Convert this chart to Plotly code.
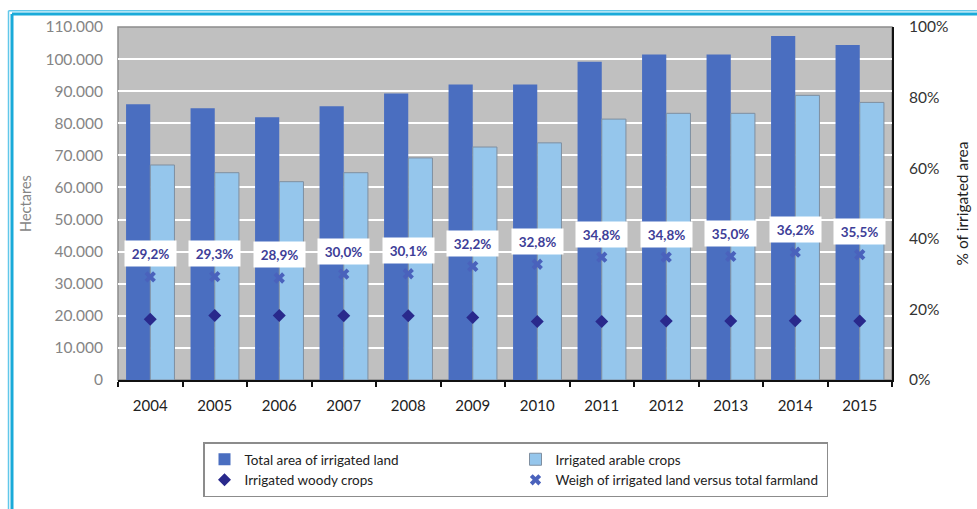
import plotly.graph_objects as go

# Irrigated land by year (hectares) and share of total farmland (%)
years = ["2004", "2005", "2006", "2007", "2008", "2009",
         "2010", "2011", "2012", "2013", "2014", "2015"]
total_irrigated = [85900, 84700, 81900, 85300, 89300, 92100,
                   92100, 99200, 101400, 101400, 107200, 104400]
arable_crops = [67000, 64600, 61800, 64600, 69200, 72600,
                73900, 81300, 83100, 83100, 88700, 86500]
woody_crops = [18900, 20100, 20100, 20000, 20000, 19500,
               18200, 18200, 18400, 18400, 18500, 18400]
weight_pct = [29.2, 29.3, 28.9, 30.0, 30.1, 32.2,
              32.8, 34.8, 34.8, 35.0, 36.2, 35.5]
left_ticks = list(range(0, 110001, 10000))
right_ticks = [0, 20, 40, 60, 80, 100]

FONT = "Lato, 'Open Sans', sans-serif"
DARK_BLUE = "#4A6EC0"
LIGHT_BLUE = "#95C6EC"
LABEL_COLOR = "#3E3E98"

fig = go.Figure()

fig.add_trace(go.Bar(
    x=years, y=total_irrigated, name="Total area of irrigated land",
    marker=dict(color=DARK_BLUE, line=dict(width=0)),
))
fig.add_trace(go.Bar(
    x=years, y=arable_crops, name="Irrigated arable crops",
    marker=dict(color=LIGHT_BLUE, line=dict(color="#7F8FA0", width=1)),
))
fig.add_trace(go.Scatter(
    x=years, y=woody_crops, name="Irrigated woody crops", mode="markers",
    marker=dict(symbol="diamond", size=10, color="#29298C"),
))
fig.add_trace(go.Scatter(
    x=years, y=weight_pct, name="Weigh of irrigated land versus total farmland",
    mode="markers", yaxis="y2",
    marker=dict(symbol="x", size=10, color="#4A62BC"),
))

# Percentage labels in white boxes above the share markers
# (category axis: annotations are placed by category index)
for i, v in enumerate(weight_pct):
    fig.add_annotation(
        x=i, y=v, xref="x", yref="y2", yshift=23,
        text=f"<b>{v:.1f}%</b>".replace(".", ","),
        showarrow=False, bgcolor="white", width=49, height=23,
        font=dict(family=FONT, size=13.5, color=LABEL_COLOR),
    )

W, H = 977, 509
ml, mr, mt, mb = 118, 85, 27, 126
pw, ph = W - ml - mr, H - mt - mb

# Plot-area frame and the outer cyan page border
fig.add_shape(type="rect", xref="paper", yref="paper", x0=0, y0=0, x1=1, y1=1,
              line=dict(color="#8C8C8C", width=1.5), layer="below")
border_lines = [(8.5, 10.5, 1.5, "#62C8EA"), (12, 14, 3, "#1AAAD9")]
for bx, by, bw, bc in border_lines:
    px = (bx - ml) / pw
    py = 1 - (by - mt) / ph
    fig.add_shape(type="line", xref="paper", yref="paper",
                  x0=px, y0=py, x1=(W + 5 - ml) / pw, y1=py,
                  line=dict(color=bc, width=bw))
    fig.add_shape(type="line", xref="paper", yref="paper",
                  x0=px, y0=py, x1=px, y1=1 - (H + 5 - mt) / ph,
                  line=dict(color=bc, width=bw))

fig.update_layout(
    width=W, height=H,
    margin=dict(l=ml, r=mr, t=mt, b=mb),
    paper_bgcolor="white", plot_bgcolor="#C0C0C0",
    separators=",.",
    barmode="group", bargap=0.25, bargroupgap=0,
    font=dict(family=FONT, size=14, color="#222222"),
    xaxis=dict(
        type="category", range=[-0.5, len(years) - 0.5], automargin=False,
        showline=True, linecolor="#111111", linewidth=2,
        ticks="outside", tickson="boundaries", ticklen=5, tickwidth=1.5,
        tickcolor="#111111", showgrid=False, tickangle=0,
        ticklabelstandoff=11,
        tickfont=dict(family=FONT, size=15, color="#222222"),
    ),
    yaxis=dict(
        range=[0, 110000], tickvals=left_ticks, tickformat=",d",
        automargin=False,
        showgrid=True, gridcolor="white", gridwidth=2, zeroline=False,
        showline=False, ticks="", ticklabelstandoff=14,
        tickfont=dict(family=FONT, size=15.5, color="#858585"),
        title=dict(text="Hectares", standoff=10,
                   font=dict(family=FONT, size=14.5, color="#858585")),
    ),
    yaxis2=dict(
        overlaying="y", side="right", range=[0, 100], automargin=False,
        tickvals=right_ticks, ticktext=[f"{t}%" for t in right_ticks],
        showgrid=False, zeroline=False,
        showline=True, linecolor="#111111", linewidth=2, ticks="",
        ticklabelstandoff=12,
        tickfont=dict(family=FONT, size=15.5, color="#333333"),
        title=dict(text="% of irrigated area", standoff=10,
                   font=dict(family=FONT, size=15.5, color="#222222")),
    ),
    legend=dict(
        orientation="h", x=(203 - ml) / pw, y=-(446 - 383) / ph,
        xanchor="left", yanchor="top",
        bordercolor="#8C8C8C", borderwidth=1.5, bgcolor="white",
        entrywidth=266, itemwidth=30, tracegroupgap=0,
        font=dict(family=FONT, size=13.5, color="#222222"),
    ),
)

fig.write_html("out.html")
